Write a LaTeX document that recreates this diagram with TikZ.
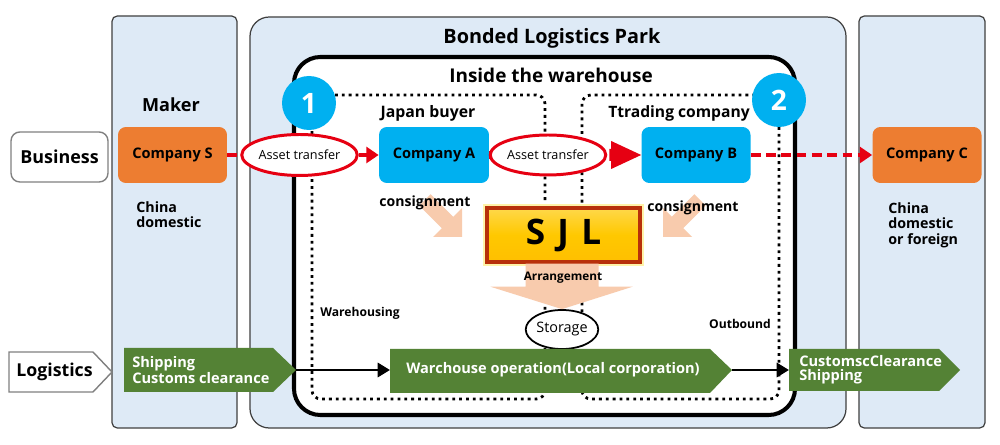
\documentclass[tikz,border=0pt]{standalone}
\usepackage{fontspec}
\setmainfont{Open Sans}
\usetikzlibrary{shapes.geometric,arrows.meta,calc}
\definecolor{colbg}{HTML}{DEEAF6}
\definecolor{orng}{HTML}{ED7D31}
\definecolor{cyanb}{HTML}{00B0F0}
\definecolor{grn}{HTML}{548235}
\definecolor{redl}{HTML}{E60012}
\definecolor{peach}{HTML}{F8CBAD}
\definecolor{darkred}{HTML}{B8300A}
\definecolor{bord}{HTML}{404040}
\definecolor{glow}{HTML}{FFF3A8}
\definecolor{goldtop}{HTML}{FFD84A}
\definecolor{goldmid}{HTML}{FFC800}
\definecolor{goldbot}{HTML}{FFBF00}
\tikzset{
  colbox/.style={draw=bord, line width=0.7pt, fill=colbg, rounded corners=3pt},
  company/.style={rounded corners=4.5pt, minimum width=2.18cm, minimum height=1.12cm, inner sep=0pt, font={\fontsize{8.3}{10}\selectfont\bfseries}},
  assetell/.style={ellipse, draw=redl, line width=1.7pt, fill=white, inner sep=0pt, font={\fontsize{7.2}{8}\selectfont}},
  reddash/.style={draw=redl, line width=2.6pt, dash pattern=on 5.5pt off 3.2pt},
  redtip/.style={-{Triangle[length=7pt,width=9pt]}},
  numcirc/.style={circle, fill=cyanb, minimum size=1.08cm, inner sep=0pt, text=white, font={\fontsize{16}{16}\selectfont\bfseries}},
  dotreg/.style={line width=1.6pt, dash pattern=on 1.6pt off 2.3pt, rounded corners=5pt},
  lbl/.style={inner sep=0pt, font={\fontsize{8}{9}\selectfont\bfseries}},
  smlbl/.style={inner sep=0pt, font={\fontsize{6.9}{8}\selectfont\bfseries}},
  headlbl/.style={inner sep=0pt, font={\fontsize{9.3}{11}\selectfont}},
  greentxt/.style={inner sep=0pt, anchor=west, align=left, text=white, font={\fontsize{8.3}{8}\selectfont\bfseries}},
  blkarrow/.style={line width=1.7pt, -{Triangle[length=7pt,width=8pt]}},
}
\begin{document}
\begin{tikzpicture}[x=0.02cm, y=-0.02cm]
\useasboundingbox (0,0) rectangle (1000,445);
\fill[white] (0,0) rectangle (1000,445);

% columns
\draw[colbox] (112,16) rectangle (237,428);
\draw[colbox, rounded corners=11pt] (250,17) rectangle (846,428);
\draw[colbox] (859,16) rectangle (985,428);
\draw[line width=2.3pt, fill=white, rounded corners=15pt] (294,57) rectangle (795,415);

\node[inner sep=0pt, font={\fontsize{11.3}{13}\selectfont\bfseries}] (bondt) at (552,38) {Bonded Logistics Park};
\node[inner sep=0pt, font={\fontsize{10.8}{13}\selectfont\bfseries}] (insidet) at (551,75) {Inside the warehouse};

% dotted regions
\draw[dotreg] (312,95) rectangle (545,399);
\draw[dotreg] (582,95) rectangle (779,399);

% left labels
\node[draw=gray, line width=0.8pt, rounded corners=5pt, fill=white, minimum width=1.94cm, minimum height=1.0cm, inner sep=0pt, font={\fontsize{10.2}{12}\selectfont\bfseries}] (bus) at (59.5,157) {Business};
\draw[draw=gray, fill=white, line width=0.8pt] (9,352) -- (93,352) -- (112,372) -- (93,392) -- (9,392) -- cycle;
\node[inner sep=0pt, font={\fontsize{10.1}{12}\selectfont\bfseries}] (logi) at (54.5,372) {Logistics};

% column texts
\node[inner sep=0pt, font={\fontsize{10.3}{12}\selectfont\bfseries}] (mk) at (171,105) {Maker};
\node[inner sep=0pt, anchor=north west, align=left, font={\fontsize{8.1}{9}\selectfont\bfseries}] (cd) at (136,201) {China\\domestic};
\node[inner sep=0pt, anchor=north west, align=left, font={\fontsize{8.1}{9}\selectfont\bfseries}] (cdf) at (888,202) {China\\domestic\\or foreign};
\node[headlbl, font={\fontsize{9}{11}\selectfont\bfseries}] (jb) at (428,113) {Japan buyer};
\node[headlbl, font={\fontsize{8.9}{11}\selectfont\bfseries}] (tc) at (679,113) {Ttrading company};

% consignment arrows
\fill[peach] (462,237) -- (462,208) -- (453.2,216.8) -- (430.6,194.2) -- (419.2,205.6) -- (441.8,228.2) -- (433,237) -- cycle;
\fill[peach] (663,237) -- (663,208) -- (671.8,216.8) -- (694.4,194.2) -- (705.8,205.6) -- (683.2,228.2) -- (692,237) -- cycle;
\node[lbl] (cons1) at (425,203) {consignment};
\node[lbl] (cons2) at (693,208) {consignment};

% companies
\node[company, fill=orng] (cs) at (172.5,155) {Company S};
\node[company, fill=cyanb, minimum width=2.2cm] (ca) at (434,155) {Company A};
\node[company, fill=cyanb] (cb) at (696,155) {Company B};
\node[company, fill=orng] (cc) at (927,155) {Company C};

\node[assetell, minimum width=1.94cm, minimum height=0.82cm] (e1) at (299.5,155) {Asset transfer};
\node[assetell, minimum width=1.9cm, minimum height=0.8cm] (e2) at (548,155) {Asset transfer};

\node[numcirc] (n1) at (309,103) {1};
\node[numcirc] (n2) at (779,100) {2};

% red arrows
\draw[reddash] (cs.east) -- (e1.west);
\draw[reddash, redtip] (e1.east) -- (ca.west);
\draw[draw=redl, line width=4.5pt] (ca.east) -- (e2.west);
\fill[redl] ($(e2.east)+(2,-6)$) -- ($(cb.west)+(-30,-6)$) -- ($(cb.west)+(-30,-14)$) -- (cb.west) -- ($(cb.west)+(-30,14)$) -- ($(cb.west)+(-30,6)$) -- ($(e2.east)+(2,6)$) -- cycle;
\draw[reddash, redtip] (cb.east) -- (cc.west);

% SJL
\draw[line width=4.5pt, draw=glow] (487,208) rectangle (640,262);
\node[draw=darkred, line width=2pt, top color=goldtop, bottom color=goldbot, middle color=goldmid, minimum width=3.06cm, minimum height=1.08cm, inner sep=0pt, font={\fontsize{20}{20}\selectfont\bfseries}] (sjl) at (563.5,235) {S\hspace{7pt}J\hspace{7pt}L};

% storage
\node[ellipse, draw, line width=1pt, fill=white, minimum width=1.44cm, minimum height=0.78cm, inner sep=0pt, font={\fontsize{8.2}{10}\selectfont}] (st) at (562,329.5) {Storage};

% arrangement arrow
\fill[peach] ($(sjl.south)+(-38,0)$) -- ($(sjl.south)+(35,0)$) -- ($(sjl.south)+(35,23)$) -- ($(sjl.south)+(69,23)$) -- (st.north) -- ($(sjl.south)+(-73,23)$) -- ($(sjl.south)+(-38,23)$) -- cycle;
\node[inner sep=0pt, font={\fontsize{6.7}{8}\selectfont\bfseries}] (arr) at (563,278) {Arrangement};

\node[smlbl] (wh) at (360,313) {Warehousing};
\node[smlbl] (ob) at (740,324) {Outbound};

% green logistics boxes
\fill[grn] (124,348) -- (273,348) -- (296,370) -- (273,392) -- (124,392) -- cycle;
\coordinate (shipT) at (296,370);
\node[greentxt] (ship) at (132,370) {Shipping\\Customs clearance};
\fill[grn] (390,349) -- (710,349) -- (732,370) -- (710,393) -- (390,393) -- cycle;
\coordinate (wopL) at (390,370);
\coordinate (wopT) at (732,370);
\node[greentxt] (wop) at (406,370) {Warchouse operation(Local corporation)};
\fill[grn] (789,349) -- (939,349) -- (960,370) -- (939,391) -- (789,391) -- cycle;
\coordinate (cusL) at (789,370);
\node[greentxt] (cus) at (799,370) {CustomscClearance\\Shipping};

\draw[blkarrow] (shipT) -- (wopL);
\draw[blkarrow] (wopT) -- (cusL);
\end{tikzpicture}
\end{document}
